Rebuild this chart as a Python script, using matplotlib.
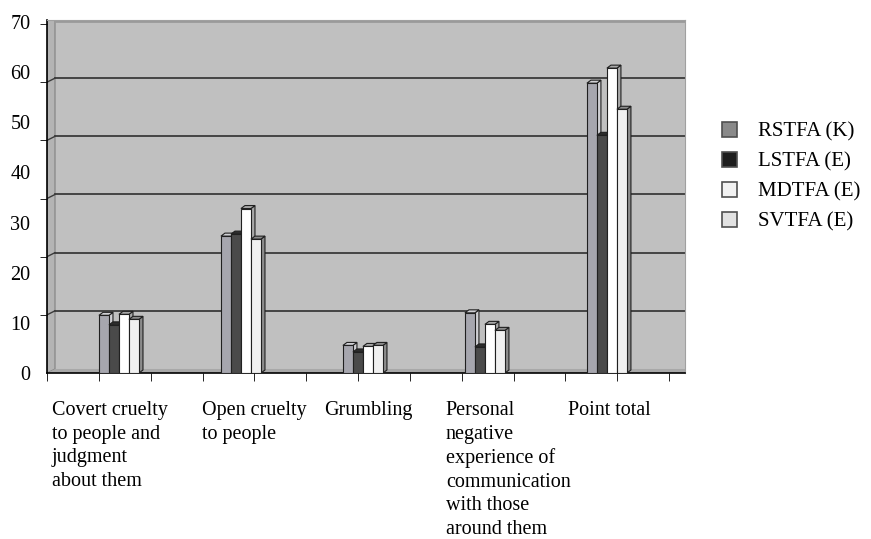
import numpy as np
import matplotlib
matplotlib.use("Agg")
import matplotlib.pyplot as plt
from matplotlib.patches import Polygon, Patch

# data
categories = [
    "Covert cruelty\nto people and\njudgment\nabout them",
    "Open cruelty\nto people",
    "Grumbling",
    "Personal\nnegative\nexperience of\ncommunication\nwith those\naround them",
    "Point total",
]
series_names = ["RSTFA (K)", "LSTFA (E)", "MDTFA (E)", "SVTFA (E)"]
rstfa = [11.5, 27.3, 5.5, 12.0, 57.8]
lstfa = [9.6, 27.7, 4.2, 5.2, 47.4]
mdtfa = [11.7, 32.8, 5.3, 9.7, 60.8]
svtfa = [10.7, 26.7, 5.5, 8.5, 52.6]
y_ticks = [0, 10, 20, 30, 40, 50, 60, 70]

series = [rstfa, lstfa, mdtfa, svtfa]
front_colors = ["#a6a6ae", "#4a4a4a", "#ffffff", "#f0f0f0"]
side_colors = ["#d0d0d4", "#2c2c2c", "#a8a8a8", "#8c8c8c"]
legend_colors = ["#8a8a8a", "#1e1e1e", "#f2f2f2", "#e2e2e2"]

plt.rcParams["font.family"] = ["Liberation Serif", "DejaVu Serif"]
fig = plt.figure(figsize=(8.71, 5.39), dpi=100)
ax = fig.add_axes([47 / 871, 1 - 373 / 539, 638 / 871, 353 / 539])

xlo, xhi = -0.59, 4.64
ax.set_xlim(xlo, xhi)
ax.set_ylim(0, 70.4)
ax.set_facecolor("#c0c0c0")

px_x = (xhi - xlo) / 638.0      # data units per pixel
px_y = 70.4 / 353.0
floor = 0.8                     # depth of the floor in value units
wall_dx = 8 * px_x

# left side wall and floor band
ax.add_patch(Polygon([(xlo, 0), (xlo + wall_dx, floor), (xlo + wall_dx, 70.4), (xlo, 70.4)],
                     closed=True, facecolor="#b4b4b4", edgecolor="#808080", lw=0.8, zorder=1))
ax.add_patch(Polygon([(xlo, 0), (xlo + wall_dx, floor), (xhi, floor), (xhi, 0)],
                     closed=True, facecolor="#a8a8a8", edgecolor="none", zorder=1))

# gridlines on the back wall, with the short slant on the side wall
tick_vals = np.linspace(0, 69.6, 7)
grid_vals = tick_vals + floor
for g in grid_vals[1:-1]:
    ax.plot([xlo + wall_dx, xhi], [g, g], color="#3a3a3a", lw=1.3, zorder=2)
    ax.plot([xlo, xlo + wall_dx], [g - floor, g], color="#3a3a3a", lw=1.0, zorder=2)
ax.plot([xlo + wall_dx, xhi], [70.2, 70.2], color="#9a9a9a", lw=2, zorder=2)

# 3d-ish clustered columns
n = len(series)
bw = 0.082
dx = 4 * px_x
dy = 3 * px_y
x = np.arange(len(categories))
for k, vals in enumerate(series):
    xs = x + (k - (n - 1) / 2) * bw
    z = 3 + k
    ax.bar(xs, vals, width=bw, color=front_colors[k], edgecolor="#202020",
           linewidth=0.8, zorder=z + 0.5)
    for xc, h in zip(xs, vals):
        r = xc + bw / 2
        l = xc - bw / 2
        ax.add_patch(Polygon([(r, 0), (r + dx, dy), (r + dx, h + dy), (r, h)], closed=True,
                             facecolor=side_colors[k], edgecolor="#202020", lw=0.8, zorder=z))
        ax.add_patch(Polygon([(l, h), (l + dx, h + dy), (r + dx, h + dy), (r, h)], closed=True,
                             facecolor=side_colors[k], edgecolor="#202020", lw=0.8, zorder=z))

# spines and ticks
for s in ["top", "right"]:
    ax.spines[s].set_color("#a0a0a0")
ax.spines["left"].set_color("black")
ax.spines["bottom"].set_color("black")
ax.spines["left"].set_linewidth(1.2)
ax.spines["bottom"].set_linewidth(1.2)

ax.set_yticks(y_ticks)
ax.set_yticklabels([str(v) for v in y_ticks], fontsize=14.5)
ax.tick_params(axis="y", which="major", length=0, pad=12)
ax.set_yticks(tick_vals, minor=True)
ax.tick_params(axis="y", which="minor", length=5, direction="out", color="black")

ax.set_xticks([])
ax.set_xticks(np.linspace(xlo, 4.51, 13), minor=True)
ax.tick_params(axis="x", which="minor", length=6, direction="out", color="black")

# category labels, left aligned under each group
for i, lab in enumerate(categories):
    lx = i - 0.32 if i else xlo + 0.04
    ax.text(lx, -5.6, lab, ha="left", va="top", fontsize=14.5, linespacing=1.32,
            transform=ax.transData, clip_on=False)

handles = [Patch(facecolor=c, edgecolor="#505050", lw=1.2) for c in legend_colors]
fig.legend(handles, series_names, loc="center left",
           bbox_to_anchor=(722 / 871, 1 - 177 / 539), frameon=False, fontsize=15,
           handlelength=0.7, handleheight=0.7, handletextpad=1.05, labelspacing=0.5,
           borderpad=0, borderaxespad=0)

fig.savefig("out.png", dpi=100)
